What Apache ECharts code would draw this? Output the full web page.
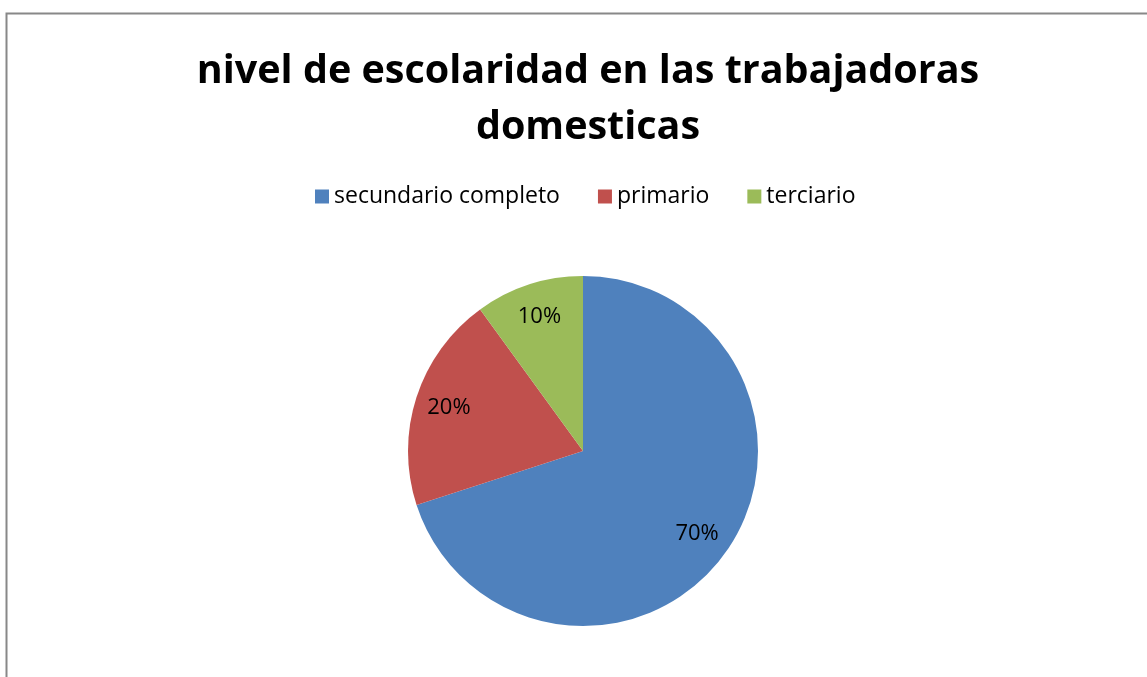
<!DOCTYPE html>
<html>
<head>
<meta charset="utf-8">
<script src="https://cdn.jsdelivr.net/npm/echarts@6/dist/echarts.min.js"></script>
<style>
html,body{margin:0;padding:0;background:#fff;}
#chart{width:1147px;height:677px;}
</style>
</head>
<body>
<div id="chart"></div>
<script>
const titleText = 'nivel de escolaridad en las trabajadoras\ndomesticas';
const categories = ['secundario completo', 'primario', 'terciario'];
const values = [70, 20, 10];
const colors = ['#4F81BD', '#C0504D', '#9BBB59'];

const chart = echarts.init(document.getElementById('chart'));
const data = categories.map((c, i) => ({ name: c, value: values[i], itemStyle: { color: colors[i] } }));
const labelData = categories.map((c, i) => ({ name: c, value: values[i] }));

chart.setOption({
  animation: false,
  backgroundColor: '#fff',
  graphic: [{
    type: 'rect', silent: true,
    shape: { x: 6.5, y: 13.5, width: 1200, height: 700 },
    style: { fill: 'none', stroke: '#888', lineWidth: 2 }
  }],
  title: {
    text: titleText,
    left: 583,
    top: 39,
    textAlign: 'center',
    textStyle: { fontFamily: 'Open Sans', fontWeight: 'bold', fontSize: 39.5, lineHeight: 56, color: '#000' }
  },
  legend: {
    data: categories,
    top: 180,
    left: 310,
    icon: 'rect',
    itemWidth: 14,
    itemHeight: 14,
    itemGap: 38,
    textStyle: { fontFamily: 'Open Sans', fontSize: 23, color: '#000' }
  },
  series: [{
    type: 'pie',
    center: [583, 451],
    radius: [0, 175],
    startAngle: 90,
    clockwise: true,
    silent: true,
    label: { show: false },
    labelLine: { show: false },
    data: data
  }, {
    type: 'pie',
    center: [583, 451],
    radius: [101, 175],
    startAngle: 90,
    clockwise: true,
    silent: true,
    itemStyle: { color: 'rgba(0,0,0,0)' },
    label: { show: true, position: 'inside', formatter: '{d}%', fontFamily: 'Open Sans', fontSize: 22, color: '#000' },
    labelLine: { show: false },
    data: labelData
  }]
});
</script>
</body>
</html>
